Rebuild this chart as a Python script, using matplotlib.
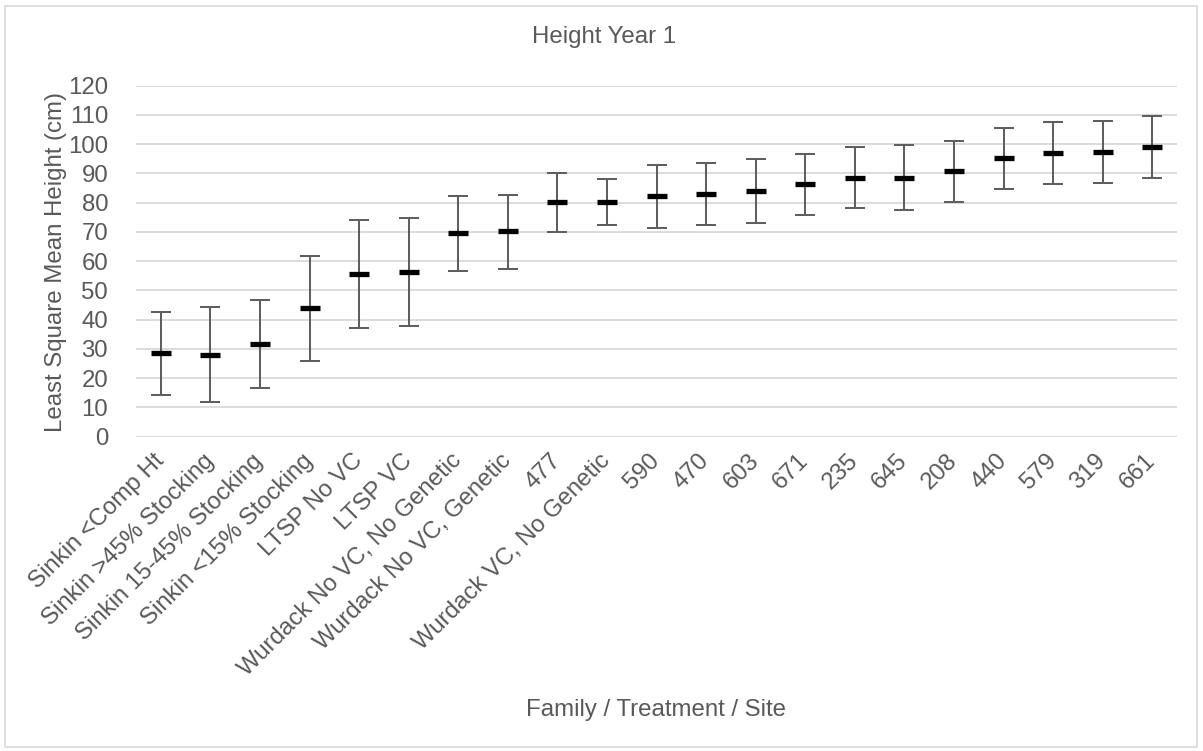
import matplotlib
matplotlib.use('Agg')
import matplotlib.pyplot as plt
from matplotlib.patches import Rectangle
import numpy as np

# Data
categories = ['Sinkin <Comp Ht', 'Sinkin >45% Stocking', 'Sinkin 15-45% Stocking',
              'Sinkin <15% Stocking', 'LTSP No VC', 'LTSP VC',
              'Wurdack No VC, No Genetic', 'Wurdack No VC, Genetic', '477',
              'Wurdack VC, No Genetic', '590', '470', '603', '671', '235', '645',
              '208', '440', '579', '319', '661']
means = [28.5, 28.1, 31.7, 43.9, 55.6, 56.4, 69.5, 70.2, 80.1, 80.3, 82.2,
         83.0, 84.0, 86.4, 88.6, 88.6, 90.8, 95.3, 97.1, 97.3, 99.1]
upper = [42.5, 44.3, 46.6, 61.7, 74.0, 74.9, 82.2, 82.7, 90.1, 88.2, 92.8,
         93.6, 94.9, 96.6, 99.0, 99.8, 101.1, 105.6, 107.7, 107.8, 109.7]
lower = [14.2, 11.7, 16.8, 25.9, 37.0, 37.7, 56.6, 57.4, 69.9, 72.3, 71.3,
         72.4, 72.9, 75.8, 78.1, 77.4, 80.3, 84.7, 86.3, 86.7, 88.3]
y_ticks = list(range(0, 121, 10))

plt.rcParams['font.family'] = ['Liberation Sans', 'DejaVu Sans']
TEXT = '#595959'
FS = 17.3

W, H = 1203, 751
fig = plt.figure(figsize=(W / 100, H / 100), dpi=100)

# chart border
fig.patches.append(Rectangle((5 / W, 4 / H), 1192 / W, 741 / H, transform=fig.transFigure,
                             fill=False, edgecolor='#d9d9d9', linewidth=1.2))

left, right, top, bottom = 136, 1177, 85.7, 436.7
ax = fig.add_axes([left / W, 1 - bottom / H, (right - left) / W, (bottom - top) / H])

x = np.arange(len(categories))
means_arr = np.array(means)
err = [means_arr - np.array(lower), np.array(upper) - means_arr]

ax.errorbar(x, means, yerr=err, fmt='none', ecolor='#5f5f5f', elinewidth=1.45,
            capsize=7.2, capthick=1.45, zorder=3)
ax.plot(x, means, linestyle='none', marker='_', markersize=14.4,
        markeredgewidth=3.8, color='black', zorder=4)

ax.set_xlim(-0.5, len(categories) - 0.5)
ax.set_ylim(0, 120)
ax.set_yticks(y_ticks)
ax.yaxis.grid(True, color='#d9d9d9', linewidth=1.3)
ax.set_axisbelow(True)
for s in ax.spines.values():
    s.set_visible(False)

ax.tick_params(axis='both', length=0, labelsize=FS, labelcolor=TEXT)
ax.tick_params(axis='y', pad=20)
ax.tick_params(axis='x', pad=15)
ax.set_xticks(x)
ax.set_xticklabels(categories, rotation=45, ha='right', rotation_mode='anchor', va='center')

fig.text(604 / W, 1 - 37 / H, 'Height Year 1', ha='center', va='center',
         fontsize=FS, color=TEXT)
fig.text(56 / W, 1 - 262 / H, 'Least Square Mean Height (cm)', ha='center', va='center',
         rotation=90, fontsize=FS, color=TEXT)
fig.text(656 / W, 1 - 710 / H, 'Family / Treatment / Site', ha='center', va='center',
         fontsize=FS, color=TEXT)

fig.savefig('out.png', dpi=100)
